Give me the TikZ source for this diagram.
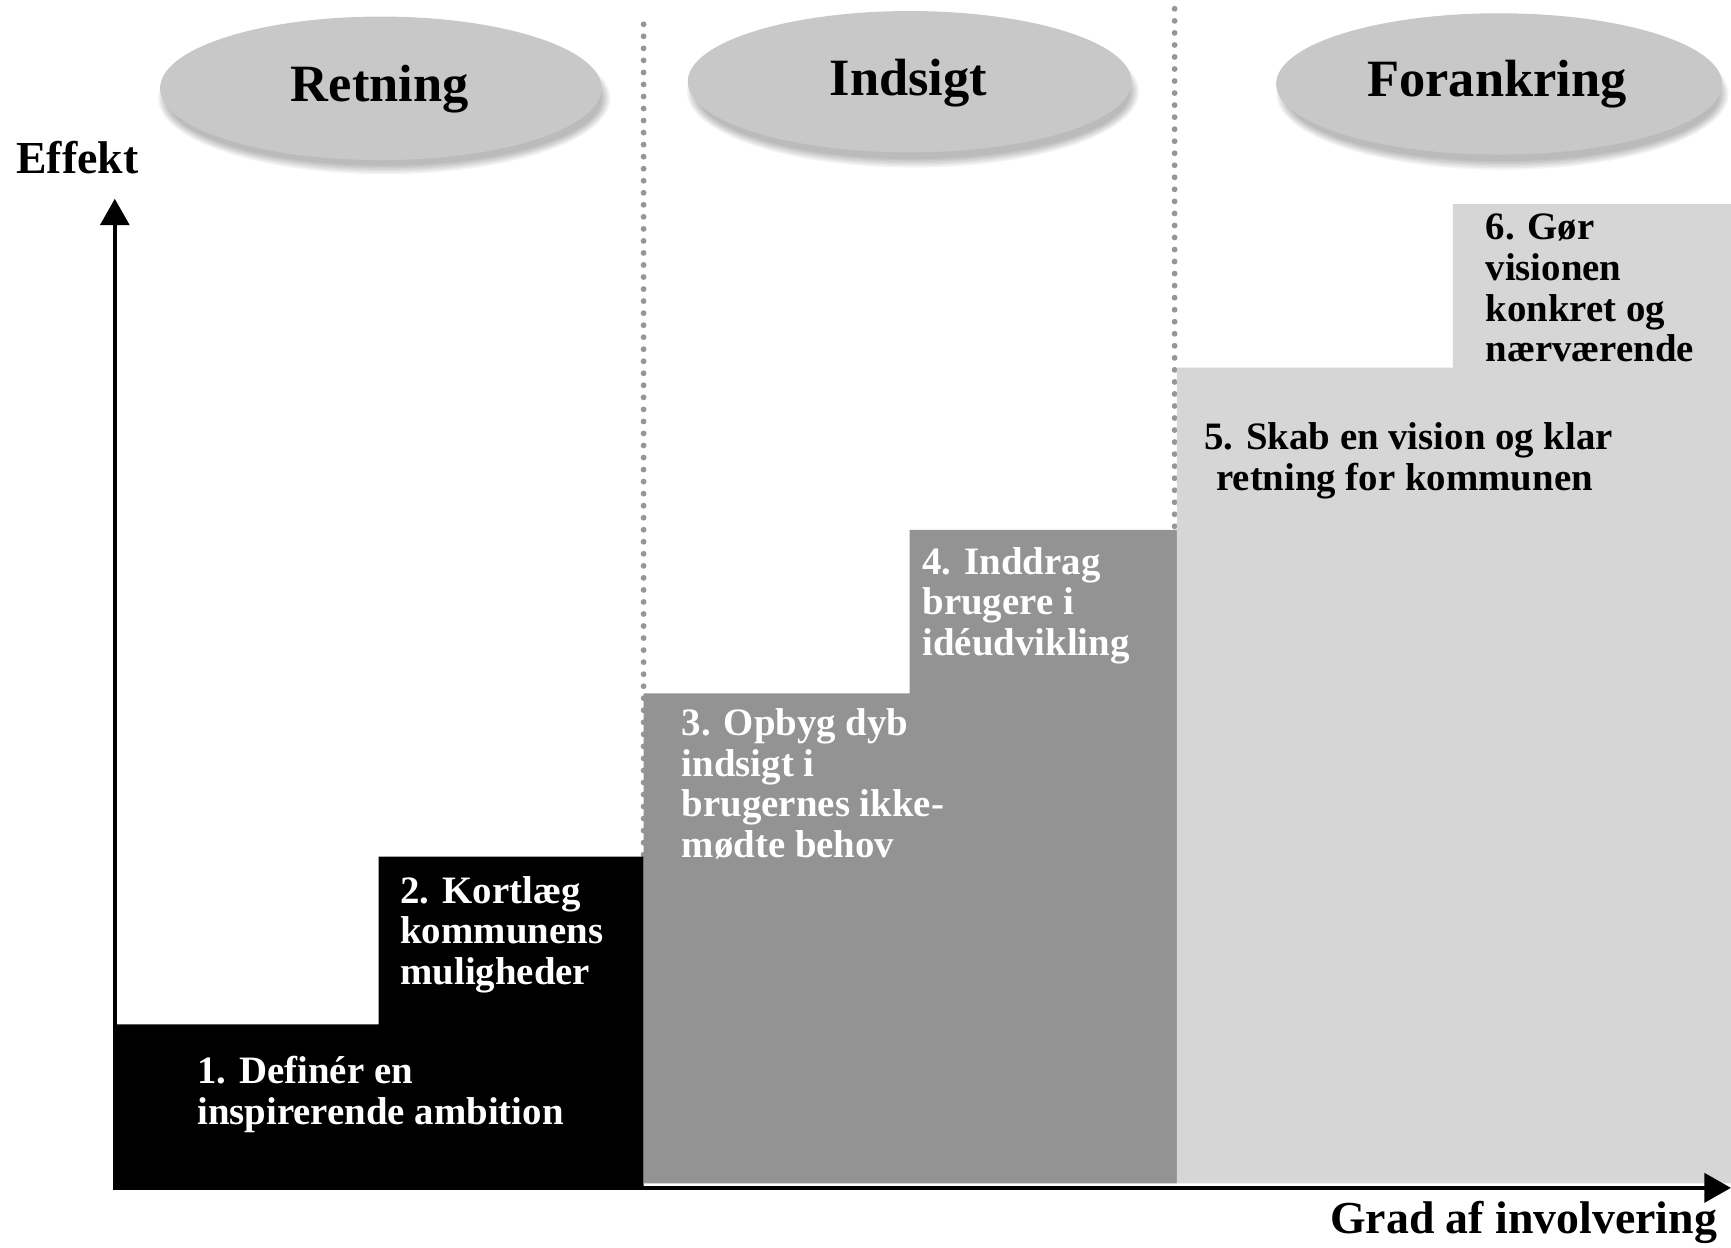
\documentclass[tikz,border=0pt]{standalone}
\usepackage{fontspec}
\setmainfont{Liberation Serif}
\usetikzlibrary{arrows.meta}
\definecolor{ellgray}{RGB}{200,200,200}
\definecolor{darkstep}{RGB}{147,147,147}
\definecolor{lightstep}{RGB}{214,214,214}
\definecolor{dotgray}{RGB}{150,150,150}
\begin{document}
\begin{tikzpicture}[x=0.01cm,y=-0.01cm,
  steptext/.style={anchor=north west, inner sep=0, align=left, text=white,
    font=\fontsize{10}{10.5}\selectfont\bfseries},
  darktext/.style={steptext, text=black},
  phase/.style={inner sep=0, font=\fontsize{13.5}{16}\selectfont\bfseries},
  axislabel/.style={inner sep=0, font=\fontsize{11.8}{13}\selectfont\bfseries},
  axisline/.style={line width=1.1pt, -{Triangle[length=0.24cm,width=0.26cm]}},
  divider/.style={dotgray, line width=1.5pt, line cap=round, dash pattern=on 0pt off 3.1pt},
  ellshape/.style={fill=ellgray},
]
\useasboundingbox (0,0) rectangle (1568,1130);
% dividers
\coordinate (d1top) at (583,22);
\coordinate (d1bot) at (583,776);
\coordinate (d2top) at (1064,8);
\coordinate (d2bot) at (1064,480);
\draw[divider] (d1top) -- (d1bot);
\draw[divider] (d2top) -- (d2bot);
% steps
\fill[black] (104,1075) -- (104,928) -- (343,928) -- (343,776) -- (583,776) -- (583,1075) -- cycle;
\fill[darkstep] (583,1072) -- (583,628) -- (824,628) -- (824,480) -- (1066,480) -- (1066,1072) -- cycle;
\fill[lightstep] (1066,1072) -- (1066,333) -- (1316,333) -- (1316,185) -- (1568,185) -- (1568,1072) -- cycle;
% axes
\coordinate (origin) at (104,1076);
\coordinate (ytip) at (104,180);
\coordinate (xtip) at (1568,1076);
\draw[axisline] (origin) -- (ytip);
\draw[axisline] ([xshift=-0.55pt]origin) -- (xtip);
% ellipses with soft shadow
\foreach \cx/\cy in {345/80, 824/74, 1358/76}{
  \foreach \i in {0,...,6}{
    \fill[black, fill opacity=0.045] (\cx+3,\cy+9) ellipse [x radius=197+\i*1.3, y radius=61+\i*1.3];
  }
}
\fill[ellshape] (345,80) ellipse [x radius=200, y radius=65];
\fill[ellshape] (824,74) ellipse [x radius=201, y radius=64];
\fill[ellshape] (1358,76) ellipse [x radius=202, y radius=64];
\node[phase] (retning) at (344,81) {Retning};
\node[phase] (indsigt) at (823,75) {Indsigt};
\node[phase] (forankring) at (1356,76) {Forankring};
% axis labels
\node[axislabel] (effekt) at (70,143) {Effekt};
\node[axislabel, anchor=east] (grad) at (1556,1107) {Grad af involvering};
% step texts
\node[steptext] (s1) at (178,956) {1. Definér en\\inspirerende ambition};
\node[steptext] (s2) at (362,793) {2. Kortlæg\\kommunens\\muligheder};
\node[steptext] (s3) at (617,641) {3. Opbyg dyb\\indsigt i\\brugernes ikke-\\mødte behov};
\node[steptext] (s4) at (835,495) {4. Inddrag\\brugere i\\idéudvikling};
\node[darktext] (s5) at (1090,382) {5. Skab en vision og klar\\\hspace{0.11cm}retning for kommunen};
\node[darktext] (s6) at (1345,193) {6. Gør\\visionen\\konkret og\\nærværende};
\end{tikzpicture}
\end{document}
